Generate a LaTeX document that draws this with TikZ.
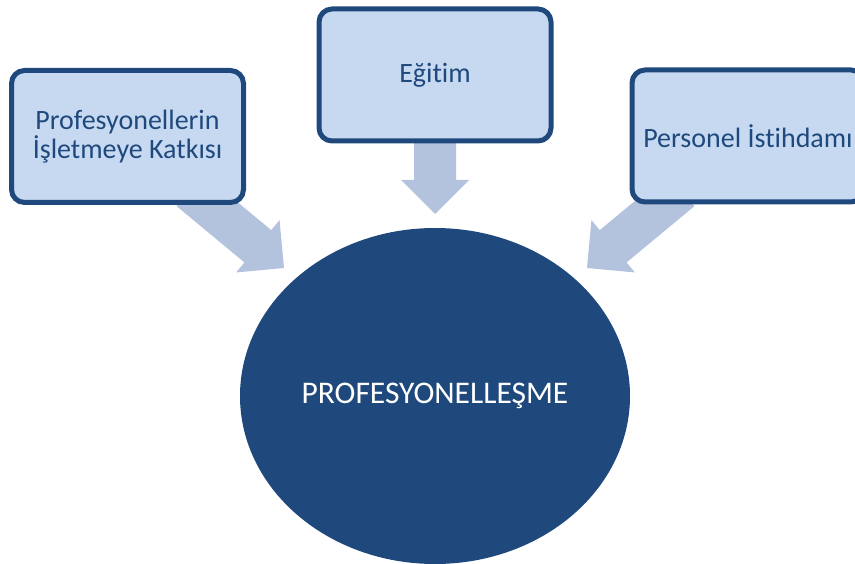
\documentclass[tikz,border=0pt]{standalone}
\usepackage{fontspec}
\setmainfont[RawFeature={-liga}]{Carlito}
\usetikzlibrary{calc,shapes.geometric}
\definecolor{navy}{HTML}{1F497D}
\definecolor{boxfill}{HTML}{C6D9F1}
\definecolor{arrowfill}{HTML}{B3C3DE}
\tikzset{
  topicbox/.style={draw=navy, line width=5pt, fill=boxfill, rounded corners=13pt,
    minimum width=232pt, minimum height=132pt, inner sep=0pt, align=center,
    text=navy, font=\fontsize{28}{28.5}\selectfont},
  centre/.style={ellipse, fill=navy, minimum width=390pt, minimum height=336pt,
    inner sep=0pt, text=white, font=\fontsize{31.5}{36}\selectfont},
  blockarrow/.style={fill=arrowfill, draw=none}
}
% filled block arrow from tail #1 to tip #2: shaft 42pt wide, head 68pt wide and 34pt long
\newcommand{\blockarr}[2]{%
  \coordinate (hb) at ($(#2)!34pt!(#1)$);
  \fill[blockarrow]
    ($(#1)!21pt!90:(#2)$) -- ($(hb)!21pt!90:(#2)$)
    -- ($(hb)!34pt!90:(#2)$) -- (#2)
    -- ($(hb)!34pt!-90:(#2)$)
    -- ($(hb)!21pt!-90:(#2)$)
    -- ($(#1)!21pt!-90:(#2)$) -- cycle;}
\begin{document}
\begin{tikzpicture}[x=1pt,y=-1pt]
  \useasboundingbox (0,0) rectangle (855,564);
  \clip (0,0) rectangle (855,564);
  % arrows run behind the boxes
  \coordinate (ltail) at (190,190);
  \coordinate (ltip) at (284,268);
  \coordinate (mtail) at (435,130);
  \coordinate (mtip) at (435,214);
  \coordinate (rtail) at (681,190);
  \coordinate (rtip) at (587,268);
  \blockarr{ltail}{ltip}
  \blockarr{mtail}{mtip}
  \blockarr{rtail}{rtip}
  % topic boxes
  \node[topicbox] (katki) at (127.5,136.5) {Profesyonellerin\\İşletmeye Katkısı};
  \node[topicbox] (egitim) at (435,75) {Eğitim};
  \node[topicbox] (istihdam) at (748,136) {Personel İstihdamı};
  % central ellipse
  \node[centre] (prof) at (435,396) {PROFESYONELLEŞME};
\end{tikzpicture}
\end{document}
